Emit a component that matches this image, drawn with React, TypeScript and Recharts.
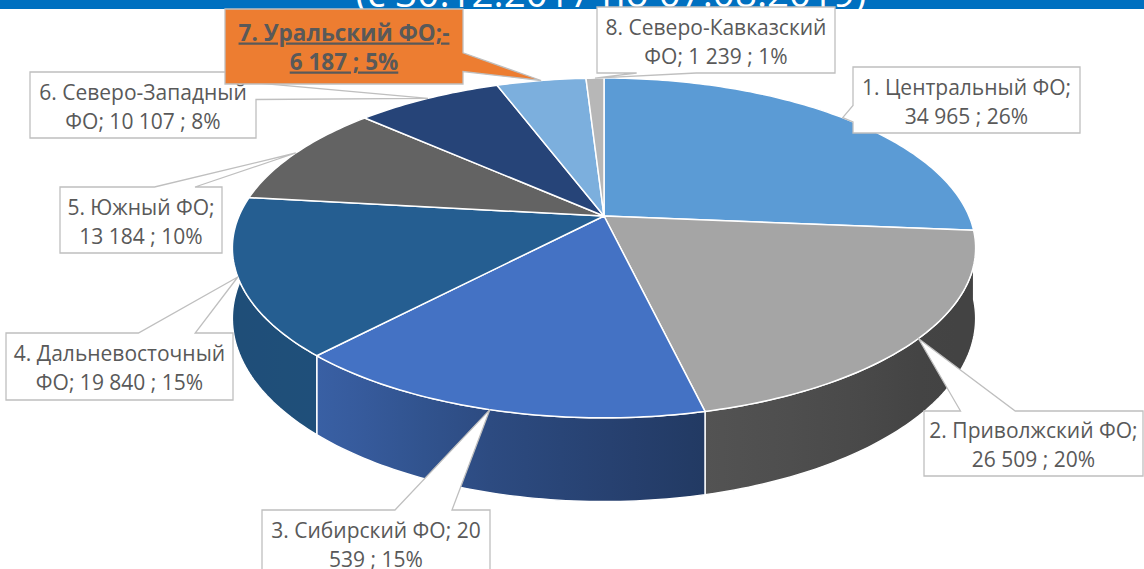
import React from 'react';
import { PieChart, Pie } from 'recharts';

const TITLE = '(с 30.12.2017 по 07.08.2019)';

const REGIONS = [
  '1. Центральный ФО', '2. Приволжский ФО', '3. Сибирский ФО', '4. Дальневосточный ФО',
  '5. Южный ФО', '6. Северо-Западный ФО', '7. Уральский ФО', '8. Северо-Кавказский ФО',
];
const VALUES = [34965, 26509, 20539, 19840, 13184, 10107, -6187, 1239];
const COLORS = ['#5b9bd5', '#a5a5a5', '#4472c4', '#255e91', '#636363', '#264478', '#7cafdd', '#b7b7b7'];
const HIGHLIGHT = 6; // Уральский — выделенная подпись

// callout boxes, placed by hand like in the excel original; wrap = chars per line
const BOXES = [
  { x: 853, y: 67, w: 227, h: 66, wrap: 18 },
  { x: 924, y: 411, w: 219, h: 65, wrap: 18 },
  { x: 262, y: 510, w: 228, h: 66, wrap: 19 },
  { x: 6, y: 333, w: 227, h: 67, wrap: 18 },
  { x: 60, y: 187, w: 162, h: 66, wrap: 13 },
  { x: 30, y: 72, w: 226, h: 66, wrap: 18 },
  { x: 225, y: 9, w: 238, h: 75, wrap: 17 },
  { x: 597, y: 7, w: 238, h: 66, wrap: 20 },
];

// side wall lighting by rim angle
const LIGHT = [[-180, 0.82], [-130, 0.84], [-105, 0.66], [-76, 0.5], [-40, 0.41], [0, 0.4]];

const data = REGIONS.map((name, i) => ({ name, value: VALUES[i] }));

const FONT = "'Open Sans', 'Noto Sans', sans-serif";
const TILT = 0.449;
const PERSP = 0.188;
const DEPTH = 68;
const RAD = Math.PI / 180;

function project(cx, cy, r, deg) {
  const u = Math.cos(deg * RAD);
  const v = -Math.sin(deg * RAD);
  const w = 1 - PERSP * v;
  return { x: cx + (r * u) / w, y: cy + (r * TILT * v) / w, w };
}

const grp = (n) => String(n).replace(/\B(?=(\d{3})+(?!\d))/g, ' ');
const acc = (n) => (n < 0 ? '-' + grp(-n) + ' ' : ' ' + grp(n) + ' ');

function wrap(text, limit) {
  const tokens = text.match(/[^\s-]*(?:-|\s+|$)/g).filter(Boolean);
  const lines = [];
  let cur = '';
  tokens.forEach((t) => {
    if (cur && (cur + t).trimEnd().length > limit) {
      lines.push(cur.trimEnd());
      cur = t.trimStart();
    } else cur += t;
  });
  if (cur.trim()) lines.push(cur.trimEnd());
  return lines;
}

function light(deg) {
  for (let i = 1; i < LIGHT.length; i++) {
    const [a0, k0] = LIGHT[i - 1];
    const [a1, k1] = LIGHT[i];
    if (deg <= a1) return k0 + ((k1 - k0) * (deg - a0)) / (a1 - a0);
  }
  return LIGHT[LIGHT.length - 1][1];
}

function shade(hex, k) {
  const n = parseInt(hex.slice(1), 16);
  const c = [(n >> 16) & 255, (n >> 8) & 255, n & 255].map((x) => Math.round(x * k));
  return `rgb(${c.join(',')})`;
}

function topPath(cx, cy, r, a0, a1) {
  const n = Math.max(2, Math.ceil(Math.abs(a1 - a0)));
  let d = `M${cx},${cy}`;
  for (let i = 0; i <= n; i++) {
    const p = project(cx, cy, r, a0 + ((a1 - a0) * i) / n);
    d += `L${p.x.toFixed(2)},${p.y.toFixed(2)}`;
  }
  return d + 'Z';
}

const Slice3D = (props) => {
  const { cx, cy, outerRadius: r, startAngle, endAngle, index } = props;
  const color = COLORS[index];
  const lo = Math.max(Math.min(startAngle, endAngle), -180);
  const hi = Math.min(Math.max(startAngle, endAngle), 0);
  let side = null;
  if (hi - lo > 0.05) {
    const n = Math.max(2, Math.ceil(hi - lo));
    const top = [];
    for (let i = 0; i <= n; i++) top.push(project(cx, cy, r, lo + ((hi - lo) * i) / n));
    const bot = top.map((p) => ({ x: p.x, y: p.y + DEPTH / p.w })).reverse();
    const d = 'M' + [...top, ...bot].map((p) => `${p.x.toFixed(2)},${p.y.toFixed(2)}`).join('L') + 'Z';
    const xs = top.map((p) => p.x);
    const xmin = Math.min(...xs), xmax = Math.max(...xs);
    const stops = [];
    let last = 0;
    for (let i = 0; i <= 6; i++) {
      const a = lo + ((hi - lo) * i) / 6;
      const p = project(cx, cy, r, a);
      const off = Math.max(last, xmax > xmin ? (p.x - xmin) / (xmax - xmin) : 0);
      last = off;
      stops.push(<stop key={i} offset={off} stopColor={shade(color, light(a))} />);
    }
    const id = `side-${index}`;
    side = (
      <g>
        <defs>
          <linearGradient id={id} gradientUnits="userSpaceOnUse" x1={xmin} x2={xmax} y1={0} y2={0}>{stops}</linearGradient>
        </defs>
        <path d={d} fill={`url(#${id})`} stroke="#fff" strokeWidth={1.4} strokeLinejoin="round" />
      </g>
    );
  }
  return (
    <g>
      {side}
      <path d={topPath(cx, cy, r, startAngle, endAngle)} fill={color} stroke="#fff" strokeWidth={1.5} strokeLinejoin="round" />
    </g>
  );
};

function calloutPath(b, tx, ty) {
  const { x, y, w, h } = b;
  const dx = tx - (x + w / 2), dy = ty - (y + h / 2);
  const dq = (dx * h) / w;
  if (Math.abs(dy) - Math.abs(dq) > 0) {
    const x1 = x + (w * (dx > 0 ? 7 : 2)) / 12, x2 = x + (w * (dx > 0 ? 10 : 5)) / 12;
    if (dy < 0) return `M${x},${y}L${x1},${y}L${tx},${ty}L${x2},${y}L${x + w},${y}L${x + w},${y + h}L${x},${y + h}Z`;
    return `M${x},${y}L${x + w},${y}L${x + w},${y + h}L${x2},${y + h}L${tx},${ty}L${x1},${y + h}L${x},${y + h}Z`;
  }
  const y1 = y + (h * (dy > 0 ? 7 : 2)) / 12, y2 = y + (h * (dy > 0 ? 10 : 5)) / 12;
  if (dx < 0) return `M${x},${y}L${x + w},${y}L${x + w},${y + h}L${x},${y + h}L${x},${y2}L${tx},${ty}L${x},${y1}Z`;
  return `M${x},${y}L${x + w},${y}L${x + w},${y1}L${tx},${ty}L${x + w},${y2}L${x + w},${y + h}L${x},${y + h}Z`;
}

const Callout = (props) => {
  const { cx, cy, outerRadius, midAngle, index, percent } = props;
  const b = BOXES[index];
  const tip = project(cx, cy, outerRadius, midAngle);
  const text = `${REGIONS[index]};${acc(VALUES[index])}; ${Math.round(percent * 100)}%`;
  const lines = wrap(text, b.wrap);
  const hl = index === HIGHLIGHT;
  const tx = b.x + b.w / 2;
  return (
    <g>
      <path d={calloutPath(b, tip.x.toFixed(1), tip.y.toFixed(1))} fill={hl ? '#ed7d31' : '#fff'} stroke="#bfbfbf" strokeWidth={1.3} />
      <text x={tx} y={b.y + b.h / 2 - (hl ? 6 : 5.5)} textAnchor="middle" fontFamily={FONT} fontSize={hl ? 22.5 : 21}
        fill="#595959" fontWeight={hl ? 700 : 400} style={hl ? { textDecoration: 'underline' } : undefined}>
        {lines.map((l, i) => <tspan key={i} x={tx} dy={i === 0 ? 0 : 29}>{l}</tspan>)}
      </text>
    </g>
  );
};

export default function App() {
  const pieProps = {
    data, cx: 604, cy: 216, outerRadius: 365, startAngle: 90, endAngle: -270,
    dataKey: (d) => Math.abs(d.value), nameKey: 'name',
    fill: 'none', stroke: 'none', labelLine: false, isAnimationActive: false,
  };
  return (
    <div style={{ position: 'absolute', left: 0, top: 0, width: 1144, height: 569, background: '#fff', overflow: 'hidden' }}>
      <svg width={1144} height={9} style={{ position: 'absolute', left: 0, top: 0 }}>
        <rect width={1144} height={9} fill="#0070c0" />
        <text x={611} y={7} textAnchor="middle" fontFamily={FONT} fontSize={38.5} fill="#fff">{TITLE}</text>
      </svg>
      <div style={{ position: 'absolute', left: 0, top: 0 }}>
        <PieChart width={1144} height={569} margin={{ top: 0, right: 0, bottom: 0, left: 0 }}>
          <Pie {...pieProps} label={Slice3D} />
          <Pie {...pieProps} label={Callout} />
        </PieChart>
      </div>
    </div>
  );
}
